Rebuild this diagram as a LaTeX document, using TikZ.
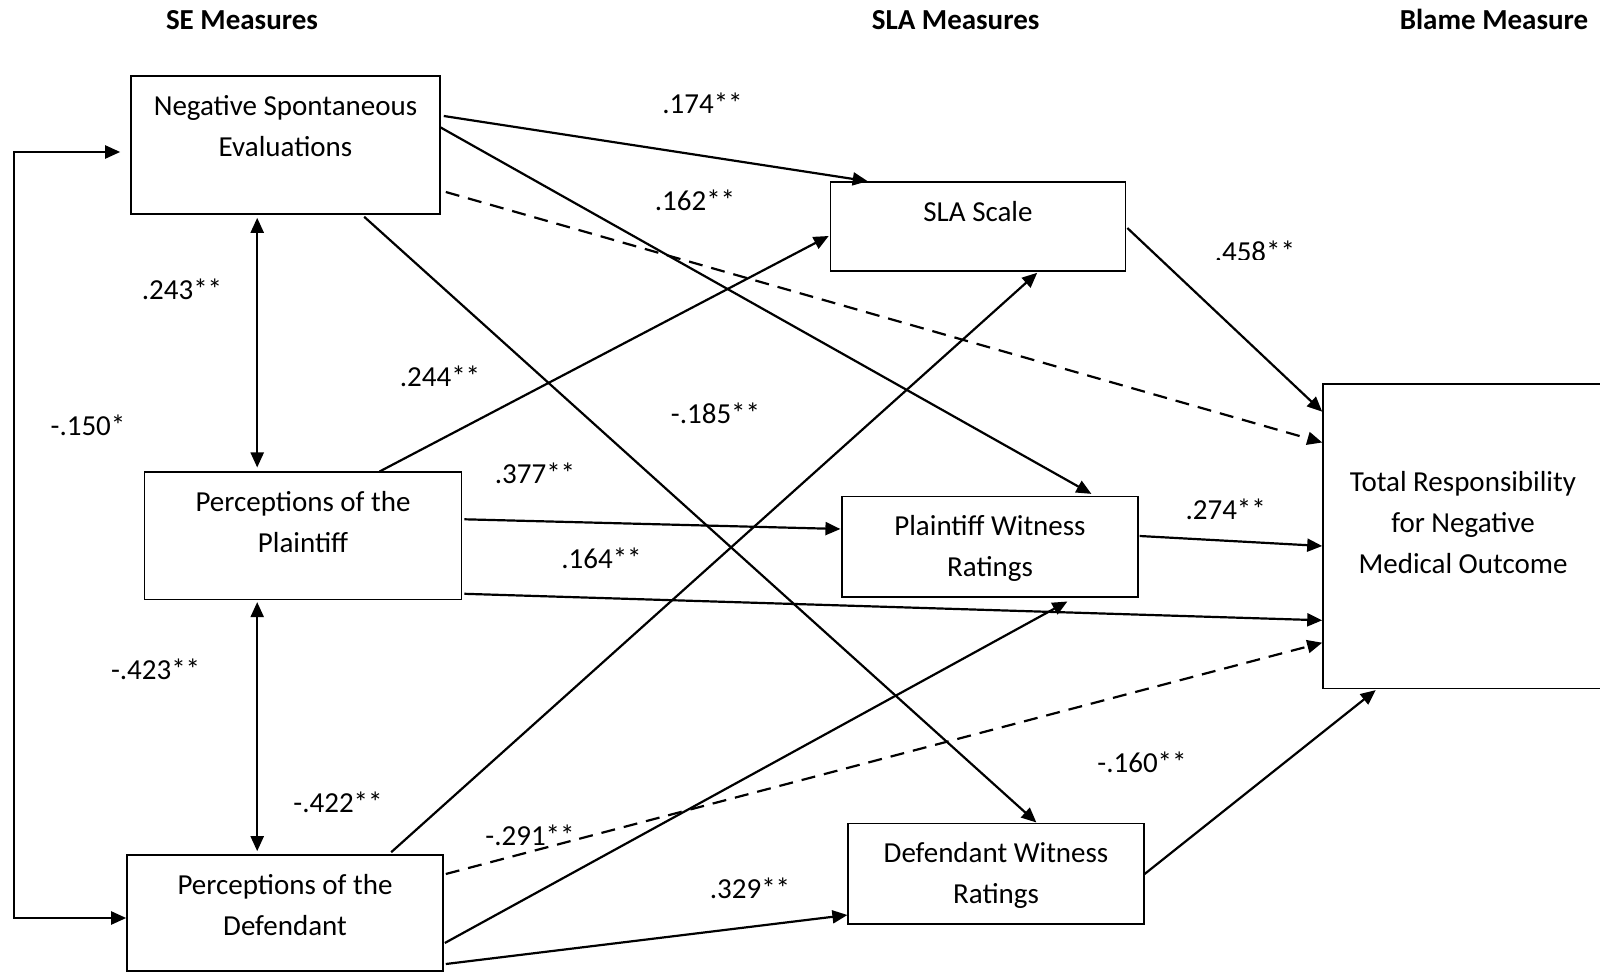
\documentclass[tikz,border=0pt]{standalone}
\usepackage{fontspec}
\setmainfont{Carlito}
\usetikzlibrary{arrows.meta,calc}
\begin{document}
\begin{tikzpicture}[x=0.5pt,y=-0.5pt,
  >={Triangle[length=7.5pt,width=6.5pt]},
  every node/.style={font=\fontsize{14.5pt}{20.5pt}\selectfont},
  box/.style={draw, line width=0.8pt, rectangle, inner sep=0pt},
  boxtext/.style={anchor=base, align=center, inner sep=0pt},
  coef/.style={anchor=base, inner sep=0pt},
  head/.style={anchor=base, inner sep=0pt, font=\fontsize{14.5pt}{20.5pt}\selectfont\bfseries},
  link/.style={line width=1.1pt, ->},
  dlink/.style={line width=1.1pt, ->, dash pattern=on 7pt off 4.5pt},
  both/.style={line width=1.1pt, <->},
]
\useasboundingbox (0,0) rectangle (1600,972);

% column headings
\node[head] (hse)  at (242,30)   {SE Measures};
\node[head] (hsla) at (955.6,30) {SLA Measures};
\node[head] (hbl)  at (1494,30)  {Blame Measure};

% boxes
\node[box, minimum width=154.5pt, minimum height=69pt]   (nse) at (285.5,145)  {};
\node[box, minimum width=147.5pt, minimum height=44.5pt] (sla) at (978,226.5)  {};
\node[box, minimum width=158.6pt, minimum height=63.5pt] (pl)  at (303,535.8)  {};
\node[box, minimum width=147.8pt, minimum height=50pt]   (pwr) at (990,546.7)  {};
\node[box, minimum width=158pt,   minimum height=58pt]   (def) at (285,913)    {};
\node[box, minimum width=147.8pt, minimum height=50.4pt] (dwr) at (996,873.7)  {};
\node[box, minimum width=140pt,   minimum height=152pt]  (tot) at (1463,536.3) {};

% box texts (base anchor sits on the last line)
\node[boxtext] (nseT) at ($(nse.north)+(0,81.5)$)  {Negative Spontaneous\\Evaluations};
\node[boxtext] (slaT) at ($(sla.north)+(0,40.5)$)  {SLA Scale};
\node[boxtext] (plT)  at ($(pl.north)+(0,80.9)$)   {Perceptions of the\\Plaintiff};
\node[boxtext] (pwrT) at ($(pwr.north)+(0,80.1)$)  {Plaintiff Witness\\Ratings};
\node[boxtext] (defT) at ($(def.north)+(0,81.5)$)  {Perceptions of the\\Defendant};
\node[boxtext] (dwrT) at ($(dwr.north)+(0,80.9)$)  {Defendant Witness\\Ratings};
\node[boxtext] (totT) at ($(tot.north)+(0,190.2)$) {Total Responsibility\\for Negative\\Medical Outcome};

% correlations between the SE measures
\draw[both] ($(nse.south west)+(127,3)$) -- ($(nse.south west |- pl.north)+(127,-4)$);
\draw[both] ($(nse.south west |- pl.south)+(127,2)$) -- ($(nse.south west |- def.north)+(127,-3)$);
\coordinate (lt) at (14,152);
\coordinate (lb) at (14,918);
\draw[both] ($(nse.west |- lt)+(-10,0)$) -- (lt) -- (lb) -- (def.west |- lb);

% paths from negative spontaneous evaluations
\draw[link]  ($(nse.east)+(3,-29)$)       -- ($(sla.north west)+(38,0)$);
\draw[link]  ($(nse.east)+(-1,-18)$)      -- ($(pwr.north west)+(250,-2)$);
\draw[dlink] ($(nse.east)+(5,47)$)        -- ($(tot.north west)+(0,59)$);
\draw[link]  ($(nse.south west)+(234,2)$) -- ($(dwr.north west)+(189,0)$);

% paths from perceptions of the plaintiff
\draw[link] ($(pl.north west)+(236,0)$) -- ($(sla.west)+(-1,9.5)$);
\draw[link] ($(pl.east)+(2,-16.5)$)     -- ($(pwr.west)+(-1,-17.7)$);
\draw[link] ($(pl.east)+(2,58)$)        -- ($(tot.west)+(0,84)$);

% paths from perceptions of the defendant
\draw[link]  ($(def.north west)+(265,-2)$) -- ($(sla.south west)+(207.5,1)$);
\draw[dlink] ($(def.east)+(2,-39)$)        -- ($(tot.west)+(0,106.4)$);
\draw[link]  ($(def.east)+(1,30)$)         -- ($(pwr.south west)+(226,4)$);
\draw[link]  ($(def.east)+(2,51)$)         -- ($(dwr.west)+(0,41.3)$);

% paths from the SLA measures to blame
\draw[link] ($(sla.east)+(1,1.5)$)   -- ($(tot.west)+(0,-124.6)$);
\draw[link] ($(pwr.east)+(1,-10.7)$) -- ($(tot.west)+(0,9.7)$);
\draw[link] ($(dwr.east)+(0,0.3)$)   -- ($(tot.south west)+(53.5,1)$);

% path coefficients
\node[coef] (c174) at (702.5,113.2) {.174**};
\node[coef] (c162) at (695,210.8)   {.162**};
\node[coef] (c243) at (182,299.2)   {.243**};
\begin{scope}
  \clip (1200,230) rectangle (1310,259.5);
  \node[coef] (c458) at (1254.9,261.5) {.458**};
\end{scope}
\node[coef] (c244) at (440,386.5)   {.244**};
\node[coef] (c150) at (88,435.8)    {-.150*};
\node[coef] (c185) at (715.5,423.2) {-.185**};
\node[coef] (c377) at (535,483.2)   {.377**};
\node[coef] (c164) at (601.5,568.2) {.164**};
\node[coef] (c274) at (1225.7,519.8) {.274**};
\node[coef] (c423) at (155.6,679.2) {-.423**};
\node[coef] (c422) at (338,812.2)   {-.422**};
\node[coef] (c291) at (530,845.5)   {-.291**};
\node[coef] (c329) at (750,898.8)   {.329**};
\node[coef] (c160) at (1142,772.2)  {-.160**};
\end{tikzpicture}
\end{document}
